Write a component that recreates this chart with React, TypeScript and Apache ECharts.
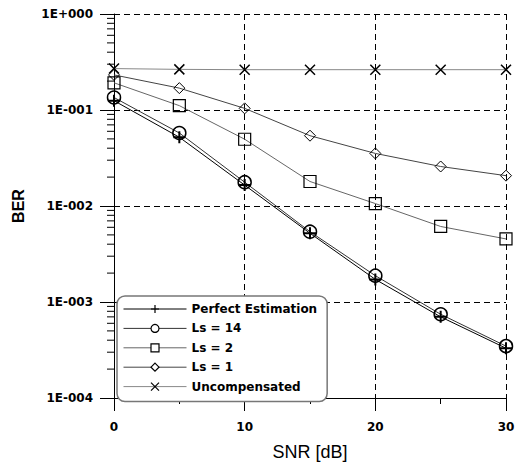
import React, { useEffect, useRef } from 'react';
import * as echarts from 'echarts';

const snr = [0, 5, 10, 15, 20, 25, 30];
const perfect = [0.125, 0.052, 0.0165, 0.0052, 0.00172, 0.0007, 0.00033];
const ls14 = [0.135, 0.0576, 0.0177, 0.0054, 0.00188, 0.000745, 0.000347];
const ls2 = [0.192, 0.111, 0.0496, 0.018, 0.0106, 0.00612, 0.00454];
const ls1 = [0.232, 0.169, 0.104, 0.054, 0.0353, 0.0258, 0.0207];
const uncomp = [0.27, 0.265, 0.263, 0.263, 0.263, 0.263, 0.263];

const seriesNames = ['Perfect Estimation', 'Ls = 14', 'Ls = 2', 'Ls = 1', 'Uncompensated'];
const yMinorTicks = [
  2e-4, 3e-4, 4e-4, 5e-4, 6e-4, 7e-4, 8e-4, 9e-4,
  2e-3, 3e-3, 4e-3, 5e-3, 6e-3, 7e-3, 8e-3, 9e-3,
  2e-2, 3e-2, 4e-2, 5e-2, 6e-2, 7e-2, 8e-2, 9e-2,
  2e-1, 3e-1, 4e-1, 5e-1, 6e-1, 7e-1, 8e-1, 9e-1,
];

const BOLD = '"DejaVu Sans", Verdana, sans-serif';
const FONT = '"Liberation Sans", Arial, sans-serif';
const PLUS = 'path://M6,0L6,12M0,6L12,6';
const CROSS = 'path://M0,0L10,10M10,0L0,10';

const fmtY = (v: number) => {
  const e = Math.round(Math.log10(v));
  const s = String(Math.abs(e)).padStart(3, '0');
  return '1E' + (e >= 0 ? '+' : '-') + s;
};

const pairs = (ys: number[]) => snr.map((x, i) => [x, ys[i]]);

export default function App() {
  const ref = useRef<HTMLDivElement>(null);
  useEffect(() => {
    if (!ref.current) return;
    const chart = echarts.init(ref.current, undefined, { renderer: 'svg' });
    const mkLine = (name: string, data: number[], color: string, symbol: string, size: number, bw: number, z: number) => ({
      name,
      type: 'line',
      data: pairs(data),
      symbol,
      symbolSize: size,
      showSymbol: true,
      z,
      lineStyle: { color, width: 1 },
      itemStyle: { color: 'transparent', borderColor: '#000', borderWidth: bw },
      emphasis: { disabled: true },
    });
    const option: any = {
      animation: false,
      backgroundColor: '#fff',
      grid: { left: 114, right: 13, top: 14, bottom: 62, containLabel: false },
      xAxis: {
        type: 'value', min: 0, max: 30, interval: 10,
        axisLine: { show: true, onZero: false, lineStyle: { color: '#000', width: 1 } },
        axisTick: { show: true, length: 13, lineStyle: { color: '#000' } },
        minorTick: { show: true, splitNumber: 2, length: 6, lineStyle: { color: '#000' } },
        splitLine: { show: true, lineStyle: { color: '#000', type: [6, 4], width: 1 } },
        axisLabel: { margin: 23, color: '#000', fontWeight: 'bold', fontSize: 12, fontFamily: BOLD },
        name: 'SNR [dB]', nameLocation: 'middle', nameGap: 45,
        nameTextStyle: { fontSize: 18, color: '#000', fontFamily: FONT },
      },
      yAxis: {
        type: 'log', logBase: 10, min: 1e-4, max: 1, splitNumber: 4,
        axisLine: { show: true, onZero: false, lineStyle: { color: '#000', width: 1 } },
        axisTick: { show: true, length: 14, lineStyle: { color: '#000' } },
        splitLine: { show: true, lineStyle: { color: '#000', type: [6, 4], width: 1 } },
        axisLabel: { margin: 21, color: '#000', fontWeight: 'bold', fontSize: 12, fontFamily: BOLD, formatter: fmtY },
        name: 'BER', nameLocation: 'middle', nameGap: 88, nameRotate: 90,
        nameTextStyle: { fontSize: 16, fontWeight: 'bold', color: '#000', fontFamily: FONT },
      },
      legend: {
        orient: 'vertical', left: 117, top: 296,
        data: seriesNames,
        itemWidth: 63, itemHeight: 10, itemGap: 7.4,
        padding: [7, 10, 9, 6],
        borderColor: '#777', borderWidth: 1.5, borderRadius: 8, backgroundColor: '#fff',
        itemStyle: { color: '#fff', borderWidth: 1.2 },
        lineStyle: { width: 1 },
        textStyle: { fontWeight: 'bold', fontSize: 12, lineHeight: 12, color: '#000', fontFamily: BOLD },
        selectedMode: false,
      },
      series: [
        mkLine('Uncompensated', uncomp, '#888', CROSS, 10, 1.5, 2),
        mkLine('Ls = 1', ls1, '#444', 'diamond', 11, 1, 3),
        mkLine('Ls = 2', ls2, '#666', 'rect', 12, 1.2, 4),
        mkLine('Ls = 14', ls14, '#333', 'circle', 13, 1.5, 5),
        mkLine('Perfect Estimation', perfect, '#000', PLUS, 12, 2, 6),
        {
          type: 'custom',
          name: 'minorTicks',
          data: yMinorTicks.map((v) => [0, v]),
          clip: false,
          silent: true,
          z: 1,
          renderItem: (params: any, api: any) => {
            const p = api.coord([api.value(0), api.value(1)]);
            return {
              type: 'line',
              shape: { x1: p[0] - 7, y1: p[1], x2: p[0], y2: p[1] },
              style: { stroke: '#000', lineWidth: 1 },
            };
          },
        },
      ],
    };
    chart.setOption(option);
    return () => chart.dispose();
  }, []);
  return <div ref={ref} style={{ position: 'fixed', left: 0, top: 0, width: 519, height: 466 }} />;
}
